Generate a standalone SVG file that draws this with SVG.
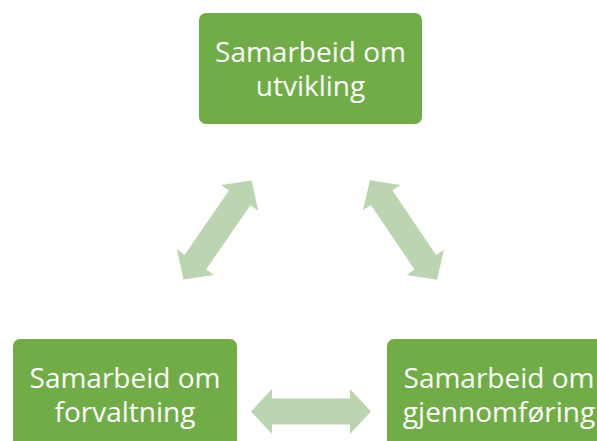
<svg xmlns="http://www.w3.org/2000/svg" width="597" height="441" viewBox="0 0 597 441">
<style>
.box{fill:#70AD47}
.t{font-family:"Open Sans","Noto Sans","Liberation Sans",sans-serif;font-size:28px;fill:#ffffff;text-anchor:middle}
.arr{fill:#BBD5B0}
</style>
<defs>
<polygon id="dbl" points="-60,0 -39,-22.5 -39,-13 39,-13 39,-22.5 60,0 39,22.5 39,13 -39,13 -39,22.5"/>
</defs>
<rect width="597" height="441" fill="#ffffff"/>
<g id="connectors">
<use href="#dbl" class="arr" transform="translate(217.5,230) rotate(-55.4)"/>
<use href="#dbl" class="arr" transform="translate(403.5,230) rotate(56)"/>
<use href="#dbl" class="arr" transform="translate(311,411.5)"/>
</g>
<g id="node-utvikling">
<rect class="box" x="199" y="13" width="223" height="111" rx="7"/>
<text class="t" x="310.5" y="62">Samarbeid om</text>
<text class="t" x="310.5" y="96">utvikling</text>
</g>
<g id="node-forvaltning">
<rect class="box" x="13" y="339" width="224" height="111" rx="7"/>
<text class="t" x="125" y="388">Samarbeid om</text>
<text class="t" x="125" y="422">forvaltning</text>
</g>
<g id="node-gjennomforing">
<rect class="box" x="387" y="339" width="224" height="111" rx="7"/>
<text class="t" x="499" y="388">Samarbeid om</text>
<text class="t" x="499" y="422">gjennomføring</text>
</g>
</svg>
